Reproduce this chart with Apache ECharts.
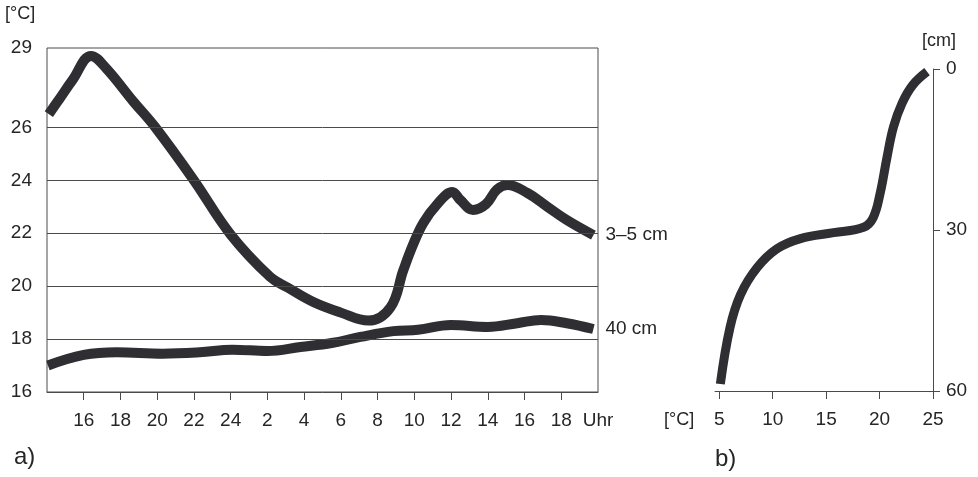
<!DOCTYPE html>
<html>
<head>
<meta charset="utf-8">
<script src="https://cdn.jsdelivr.net/npm/echarts@6/dist/echarts.min.js"></script>
<style>
  html, body { margin: 0; padding: 0; background: #fff; }
  #chart { width: 978px; height: 477px; }
</style>
</head>
<body>
<div id="chart"></div>
<script>
// a) Tagesgang der Bodentemperatur (Stunden ab 14 Uhr des ersten Tages, >24 = Folgetag)
const hourTicks = [16, 18, 20, 22, 24, 26, 28, 30, 32, 34, 36, 38, 40, 42];
const hourLabels = [16, 18, 20, 22, 24, 26, 28, 30, 32, 34, 36, 38, 40, 42, 44];
const tempTicks = [16, 18, 20, 22, 24, 26, 29];
const gridTemps = [18, 20, 22, 24, 26];

const topsoilHours = [14.1, 14.7, 15.4, 16.4, 17.2, 18.7, 19.9, 22.0, 24.0, 26.15, 27.1, 28.5, 30.0, 31.5, 32.7, 33.4, 33.95, 34.5, 35.25, 36.07, 36.5, 37.2, 37.9, 38.5, 39.07, 40.16, 41.25, 42.3, 43.75];
const topsoilTemp  = [26.5, 27.1, 27.8, 28.7, 28.25, 26.98, 26.0, 24.0, 21.95, 20.35, 19.95, 19.4, 19.0, 18.7, 19.2, 20.6, 21.6, 22.4, 23.1, 23.56, 23.26, 22.88, 23.1, 23.65, 23.82, 23.52, 23.0, 22.5, 21.93];

const deepHours = [14.05, 16.0, 17.8, 20.3, 22.3, 24.1, 26.0, 27.8, 29.5, 31.06, 32.86, 34.2, 36.0, 38.0, 39.6, 40.9, 42.3, 43.75];
const deepTemp  = [17.0, 17.4, 17.5, 17.45, 17.5, 17.6, 17.55, 17.7, 17.85, 18.08, 18.3, 18.35, 18.53, 18.46, 18.6, 18.72, 18.6, 18.38];

// b) Temperaturprofil mit der Tiefe
const profileTicks = [5, 10, 15, 20, 25];
const profileTemp  = [24.44, 23.1, 22.1, 21.3, 20.7, 20.05, 19.4, 18.5, 15.7, 12.6, 10.4, 8.55, 7.0, 6.0, 5.1];
const profileDepth = [0.5, 3.0, 6.4, 10.8, 16.4, 23.2, 27.7, 29.5, 30.5, 31.6, 33.5, 37.0, 42.0, 48.2, 58.7];

const ink = '#2e2e33';
const frame = '#4a4a4a';
const textColor = '#262626';
const font = 'Liberation Sans, Arial, sans-serif';
const labelSize = 19;

const zip = (xs, ys) => xs.map((x, i) => [x, ys[i]]);

const chart = echarts.init(document.getElementById('chart'), null, { renderer: 'canvas' });

chart.setOption({
  animation: false,
  backgroundColor: '#fff',
  grid: [
    { left: 47, top: 48, width: 551, height: 344, show: true, borderColor: frame, borderWidth: 1, backgroundColor: 'transparent' },
    { left: 715, top: 69, width: 218, height: 322 }
  ],
  xAxis: [
    {
      gridIndex: 0, type: 'value', min: 14, max: 44,
      axisLine: { show: true, lineStyle: { color: frame, width: 1 } },
      axisTick: { show: true, length: 8, customValues: hourTicks, lineStyle: { color: frame } },
      axisLabel: {
        customValues: hourLabels, margin: 19, fontSize: labelSize, color: textColor, fontFamily: font,
        formatter: v => v === 44 ? 'Uhr' : String(v > 24 ? v - 24 : v)
      },
      splitLine: { show: false }
    },
    {
      gridIndex: 1, type: 'value', min: 4.6, max: 25, position: 'bottom',
      axisLine: { show: true, onZero: false, lineStyle: { color: frame, width: 1 } },
      axisTick: { show: true, length: 8, customValues: profileTicks, lineStyle: { color: frame } },
      axisLabel: { customValues: profileTicks, margin: 19, fontSize: labelSize, color: textColor, fontFamily: font },
      splitLine: { show: false }
    }
  ],
  yAxis: [
    {
      gridIndex: 0, type: 'value', min: 16, max: 29,
      axisLine: { show: false },
      axisTick: { show: false },
      axisLabel: { customValues: tempTicks, margin: 15, fontSize: labelSize, color: textColor, fontFamily: font },
      splitLine: { show: false }
    },
    {
      gridIndex: 1, type: 'value', min: 0, max: 60, interval: 30, inverse: true, position: 'right',
      axisLine: { show: true, onZero: false, lineStyle: { color: frame, width: 1 } },
      axisTick: { show: true, length: 7, lineStyle: { color: frame } },
      axisLabel: { margin: 13, fontSize: labelSize, color: textColor, fontFamily: font },
      splitLine: { show: false }
    }
  ],
  series: [
    {
      // horizontal temperature grid lines
      type: 'line', xAxisIndex: 0, yAxisIndex: 0, data: [], z: 1, silent: true,
      markLine: {
        silent: true, symbol: ['none', 'none'], label: { show: false },
        lineStyle: { color: frame, width: 1, type: 'solid' },
        data: gridTemps.map(t => ({ yAxis: t }))
      }
    },
    {
      name: '3–5 cm', type: 'line', xAxisIndex: 0, yAxisIndex: 0, z: 3,
      data: zip(topsoilHours, topsoilTemp), smooth: 0.4, showSymbol: false, symbol: 'none',
      lineStyle: { color: ink, width: 10, cap: 'butt', join: 'round' },
      endLabel: { show: true, formatter: '3–5 cm', distance: 12, fontSize: labelSize, color: textColor, fontFamily: font }
    },
    {
      name: '40 cm', type: 'line', xAxisIndex: 0, yAxisIndex: 0, z: 3,
      data: zip(deepHours, deepTemp), smooth: 0.4, showSymbol: false, symbol: 'none',
      lineStyle: { color: ink, width: 10, cap: 'butt', join: 'round' },
      endLabel: { show: true, formatter: '40 cm', distance: 12, fontSize: labelSize, color: textColor, fontFamily: font }
    },
    {
      name: 'Profil', type: 'line', xAxisIndex: 1, yAxisIndex: 1, z: 3,
      data: zip(profileTemp, profileDepth), smooth: 0.4, showSymbol: false, symbol: 'none',
      lineStyle: { color: ink, width: 9, cap: 'butt', join: 'round' }
    }
  ],
  graphic: [
    { type: 'text', left: 5, top: 5, style: { text: '[°C]', fontSize: 18, fill: textColor, fontFamily: font } },
    { type: 'text', left: 14, top: 445, style: { text: 'a)', fontSize: 24, fill: textColor, fontFamily: font } },
    { type: 'text', left: 922, top: 32, style: { text: '[cm]', fontSize: 18, fill: textColor, fontFamily: font } },
    { type: 'text', left: 664, top: 411, style: { text: '[°C]', fontSize: 18, fill: textColor, fontFamily: font } },
    { type: 'text', left: 715, top: 447, style: { text: 'b)', fontSize: 24, fill: textColor, fontFamily: font } }
  ]
});
</script>
</body>
</html>
